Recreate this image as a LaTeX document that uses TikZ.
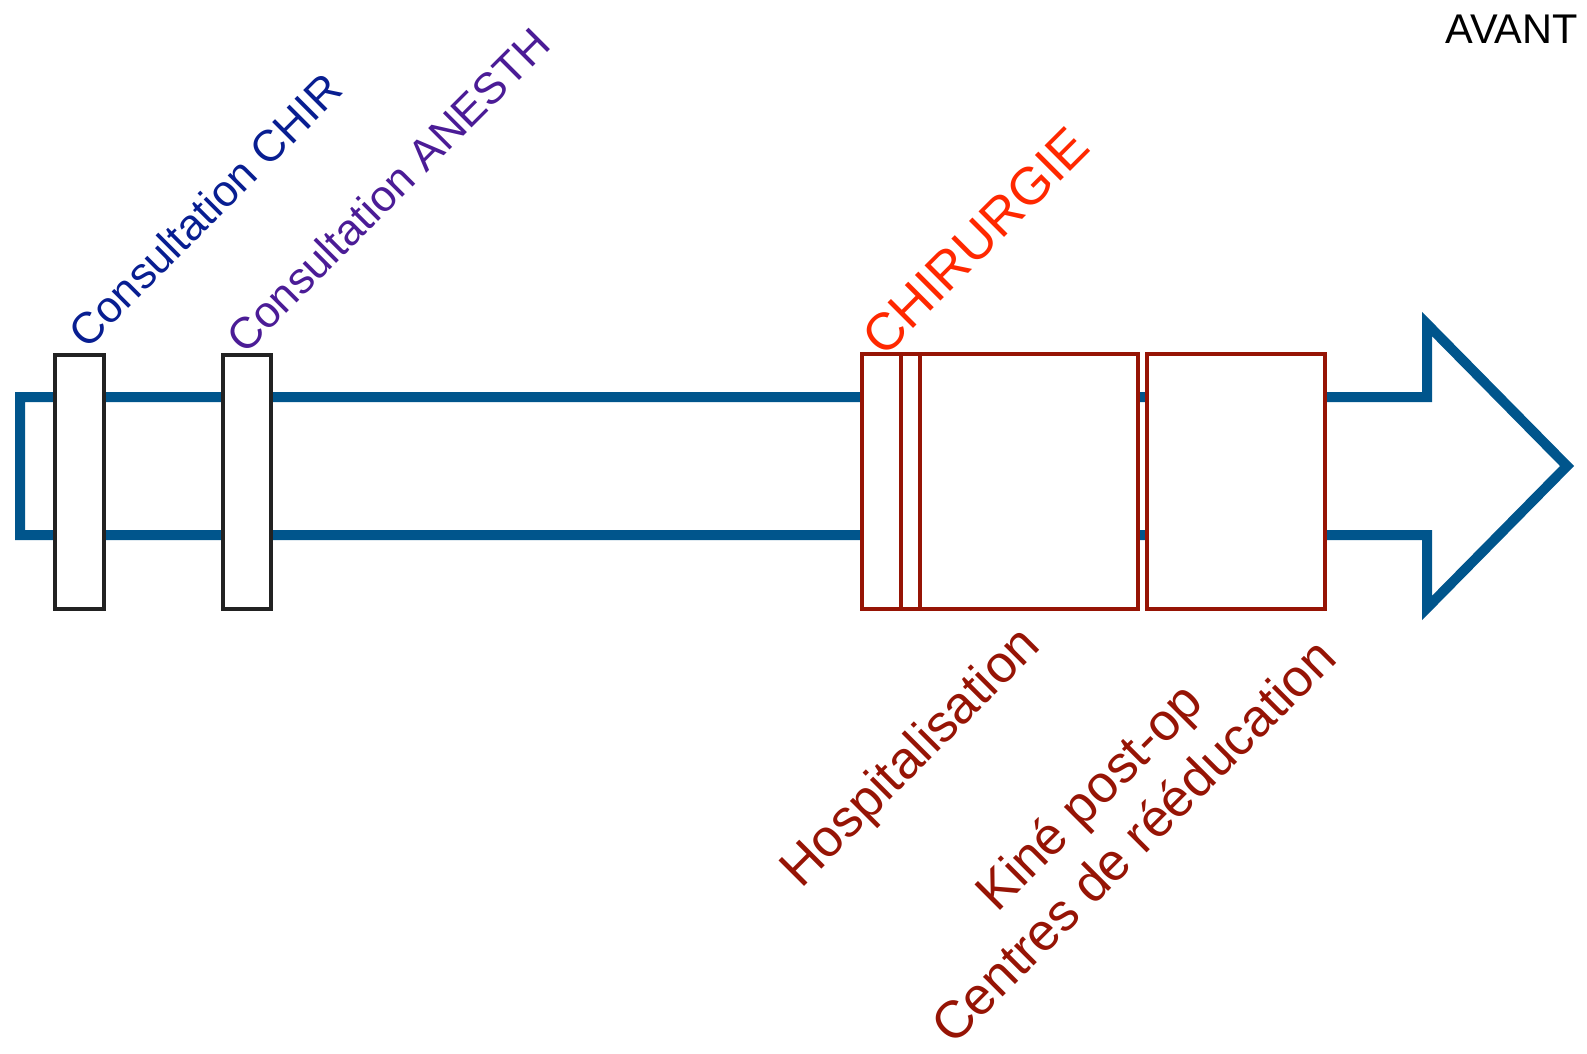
\documentclass[tikz,border=0pt]{standalone}
\usepackage{fontspec}
\setmainfont{Liberation Sans}
\definecolor{arrowblue}{RGB}{0,85,140}
\definecolor{boxgray}{RGB}{34,34,34}
\definecolor{chirnavy}{RGB}{8,30,145}
\definecolor{anespurple}{RGB}{75,28,150}
\definecolor{chirred}{RGB}{255,40,0}
\definecolor{darkred}{RGB}{150,20,5}
\tikzset{
  timearrow/.style={draw=arrowblue, line width=10pt, line join=miter},
  graybox/.style={draw=boxgray, fill=white, line width=4pt, inner sep=0pt, outer sep=0pt, minimum height=254pt},
  redbox/.style={draw=darkred, fill=white, line width=4pt, inner sep=0pt, outer sep=0pt, minimum height=255pt},
  rotlabel/.style={rotate=45, inner sep=0pt, outer sep=0pt, anchor=base west},
  small/.style={font=\fontsize{44}{52}\selectfont},
  big/.style={font=\fontsize{52.5}{63}\selectfont}
}
\begin{document}
\begin{tikzpicture}[x=1pt,y=-1pt]
\useasboundingbox (0,0) rectangle (1587,1053);
% timeline arrow
\draw[timearrow] (20,397) -- (1427,397) -- (1427,324) -- (1567,466) -- (1427,608) -- (1427,535) -- (20,535) -- cycle;
% consultation boxes
\node[graybox, minimum width=49pt] (cchir) at (79.5,482) {};
\node[graybox, minimum width=48pt] (canes) at (247,482) {};
% surgery / hospital boxes
\node[redbox, minimum width=39pt] (surg1) at (881.5,481.5) {};
\node[redbox, minimum width=19pt] (surg2) at (910.5,481.5) {};
\node[redbox, minimum width=218pt] (hosp) at (1029,481.5) {};
\node[redbox, minimum width=178pt] (reed) at (1236,481.5) {};
% labels
\node[inner sep=0pt, anchor=base east, font=\fontsize{41.5}{48}\selectfont] (avant) at (1578,43) {AVANT};
\node[rotlabel, small, text=chirnavy] (lchir) at (87,350) {Consultation CHIR};
\node[rotlabel, small, text=anespurple] (lanes) at (245,355) {Consultation ANESTH};
\node[rotlabel, big, text=chirred] (lsurg) at (884,358) {CHIRURGIE};
\node[rotlabel, big, text=darkred] (lhosp) at (801,889) {Hospitalisation};
\node[rotate=45, inner sep=0pt, outer sep=0pt, anchor=base, align=center, big, text=darkred] (lreed) at (1146,854) {Kiné post-op\\Centres de rééducation};
\end{tikzpicture}
\end{document}
